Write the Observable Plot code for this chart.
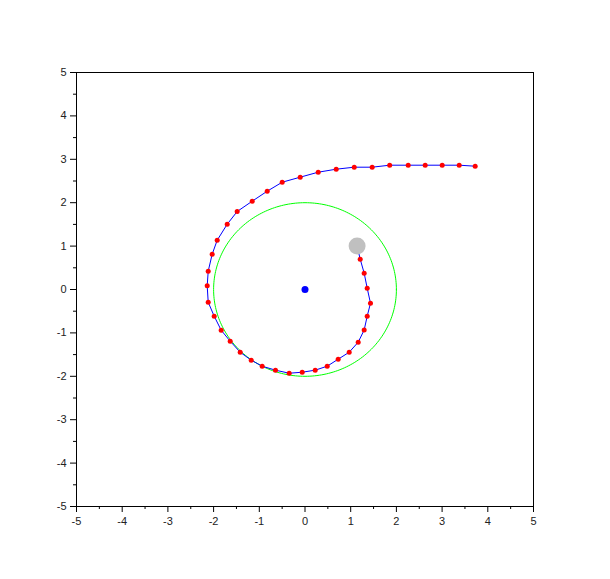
<!DOCTYPE html>
<html>
<head>
<meta charset="utf-8">
<script src="https://cdn.jsdelivr.net/npm/d3@7"></script>
<script src="https://cdn.jsdelivr.net/npm/@observablehq/plot@0.6"></script>
<style>
  body { margin: 0; background: #fff; }
  svg { display: block; }
</style>
</head>
<body>
<div id="chart"></div>
<script>
// Trajectory (red sample points), starting near the gray marker
const pathX = [1.208, 1.295, 1.361, 1.433, 1.361, 1.295, 1.164, 0.967, 0.726, 0.486, 0.223, -0.061, -0.346, -0.646, -0.937, -1.177, -1.418, -1.637, -1.834, -1.987, -2.118, -2.140, -2.118, -2.031, -1.921, -1.702, -1.484, -1.155, -0.827, -0.499, -0.105, 0.289, 0.683, 1.077, 1.470, 1.853, 2.258, 2.630, 3.002, 3.374, 3.724];
const pathY = [0.698, 0.376, 0.030, -0.316, -0.615, -0.933, -1.214, -1.445, -1.606, -1.767, -1.859, -1.906, -1.929, -1.859, -1.767, -1.629, -1.445, -1.191, -0.938, -0.615, -0.293, 0.085, 0.422, 0.813, 1.136, 1.505, 1.797, 2.035, 2.265, 2.472, 2.588, 2.703, 2.772, 2.818, 2.818, 2.864, 2.864, 2.864, 2.864, 2.864, 2.841];
// Start marker (gray), centre marker (blue)
const startX = [1.14], startY = [1.0];
const centerX = [0], centerY = [0];
// Reference circle
const circleRadius = 2;
const circleSteps = 240;
// Axis ticks
const majorTicks = [-5, -4, -3, -2, -1, 0, 1, 2, 3, 4, 5];
const minorTicks = [-4.5, -3.5, -2.5, -1.5, -0.5, 0.5, 1.5, 2.5, 3.5, 4.5];

const linePts = [{x: startX[0], y: startY[0]}].concat(pathX.map((x, i) => ({x, y: pathY[i]})));
const dotPts = pathX.map((x, i) => ({x, y: pathY[i]}));
const circlePts = d3.range(circleSteps + 1).map(i => {
  const a = 2 * Math.PI * i / circleSteps;
  return {x: centerX[0] + circleRadius * Math.cos(a), y: centerY[0] + circleRadius * Math.sin(a)};
});

const chart = Plot.plot({
  width: 610,
  height: 579,
  marginLeft: 76,
  marginRight: 77,
  marginTop: 72,
  marginBottom: 73,
  style: {fontFamily: "'Liberation Sans', Arial, sans-serif", fontSize: "11px", color: "#000", background: "#fff"},
  x: {domain: [-5, 5]},
  y: {domain: [-5, 5]},
  marks: [
    Plot.frame({stroke: "#000", strokeWidth: 1}),
    Plot.axisX({ticks: majorTicks, tickSize: 6, tickPadding: 5, tickFormat: d => String(d), stroke: "#000", fill: "#222", label: null}),
    Plot.axisX({ticks: minorTicks, tickSize: 3, tickFormat: () => "", stroke: "#000", label: null}),
    Plot.axisY({ticks: majorTicks, tickSize: 6, tickPadding: 4, tickFormat: d => String(d), stroke: "#000", fill: "#222", label: null}),
    Plot.axisY({ticks: minorTicks, tickSize: 3, tickFormat: () => "", stroke: "#000", label: null}),
    Plot.line(circlePts, {x: "x", y: "y", stroke: "#00ff00", strokeWidth: 1}),
    Plot.line(linePts, {x: "x", y: "y", stroke: "#0000ff", strokeWidth: 1}),
    Plot.dot(dotPts, {x: "x", y: "y", r: 2.5, fill: "#ff0000", stroke: "none"}),
    Plot.dot(centerX.map((x, i) => ({x, y: centerY[i]})), {x: "x", y: "y", r: 3.5, fill: "#0000ff", stroke: "none"}),
    Plot.dot(startX.map((x, i) => ({x, y: startY[i]})), {x: "x", y: "y", r: 8.5, fill: "#c0c0c0", stroke: "none"})
  ]
});
document.getElementById("chart").appendChild(chart);
</script>
</body>
</html>
